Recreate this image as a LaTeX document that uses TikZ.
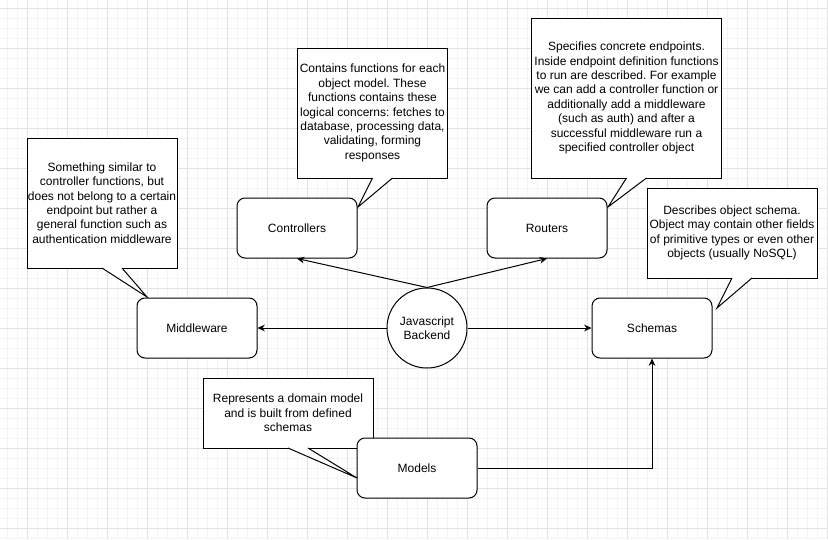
\documentclass[tikz,border=0pt]{standalone}
\usepackage{fontspec}
\setmainfont{Liberation Sans}
\usetikzlibrary{calc,arrows.meta}

\definecolor{gridminor}{RGB}{244,244,244}
\definecolor{gridmajor}{RGB}{226,226,226}

\begin{document}
\begin{tikzpicture}[
  x=0.75pt, y=-0.75pt,
  >={Stealth[length=5.5pt,width=5pt]},
  every node/.style={font=\fontsize{9pt}{10.8pt}\selectfont\frenchspacing},
  note/.style={rectangle,draw=black,fill=white,line width=0.75pt,inner sep=0pt,outer sep=0pt,align=center},
  block/.style={rectangle,rounded corners=6pt,draw=black,fill=white,line width=0.75pt,minimum width=90pt,minimum height=45pt,inner sep=0pt},
  hub/.style={circle,draw=black,fill=white,line width=0.75pt,minimum size=60pt,inner sep=0pt,align=center},
  link/.style={->,line width=0.75pt}
]

\def\tail#1:#2;{
  \fill[white] ($(#1.south)+(0,-1)$) -- (#1.south) -- #2 -- ($(#1.south)+(20,0)$) -- ($(#1.south)+(20,-1)$) -- cycle;
  \draw[line width=0.75pt] (#1.south) -- #2 -- ($(#1.south)+(20,0)$);
}

\useasboundingbox (0,0) rectangle (828,539);
\fill[white] (0,0) rectangle (828,539);

% grid
\foreach \x in {7,17,...,827} \draw[gridminor,line width=0.75pt] (\x,0) -- (\x,539);
\foreach \y in {8,18,...,538} \draw[gridminor,line width=0.75pt] (0,\y) -- (828,\y);
\foreach \x in {27,67,...,827} \draw[gridmajor,line width=0.75pt] (\x,0) -- (\x,539);
\foreach \y in {8,48,...,528} \draw[gridmajor,line width=0.75pt] (0,\y) -- (828,\y);

\coordinate (mwtip) at (147,297);
\coordinate (ctrltip) at (358,207);
\coordinate (routtip) at (608,207);
\coordinate (schtip) at (717,308);
\coordinate (modtip) at (357,478);

% notes
\node[note,minimum width=112.5pt,minimum height=97.5pt] (mwnote) at (102,203)
  {Something similar to\\controller functions, but\\does not belong to a certain\\endpoint but rather a\\general function such as\\authentication middleware};
\tail mwnote:(mwtip);

\node[note,minimum width=112.5pt,minimum height=97.5pt] (ctrlnote) at (372.5,113)
  {Contains functions for each\\object model. These\\functions contains these\\logical concerns: fetches to\\database, processing data,\\validating, forming\\responses};
\tail ctrlnote:(ctrltip);

\node[note,minimum width=142.5pt,minimum height=120pt] (routnote) at (626.5,98)
  {Specifies concrete endpoints.\\Inside endpoint definition functions\\to run are described. For example\\we can add a controller function or\\additionally add a middleware\\(such as auth) and after a\\successful middleware run a\\specified controller object};
\tail routnote:(routtip);

\node[note,minimum width=127.5pt,minimum height=67.5pt] (schnote) at (732,233)
  {Describes object schema.\\Object may contain other fields\\of primitive types or even other\\objects (usually NoSQL)};
\tail schnote:(schtip);

\node[note,minimum width=127.5pt,minimum height=52.5pt] (modnote) at (288,413)
  {Represents a domain model\\and is built from defined\\schemas};
\tail modnote:(modtip);

% blocks
\node[block] (mw) at (197,328) {Middleware};
\node[block] (ctrl) at (297,228) {Controllers};
\node[block] (rout) at (547,228) {Routers};
\node[block] (sch) at (652,328) {Schemas};
\node[block] (mod) at (417,468) {Models};
\node[hub] (js) at (427,328) {Javascript\\Backend};

\draw[link] (js.north) -- (ctrl.south);
\draw[link] (js.north) -- (rout.south);
\draw[link] (js.west) -- (mw.east);
\draw[link] (js.east) -- (sch.west);
\draw[link] (mod.east) -| (sch.south);

\end{tikzpicture}
\end{document}
